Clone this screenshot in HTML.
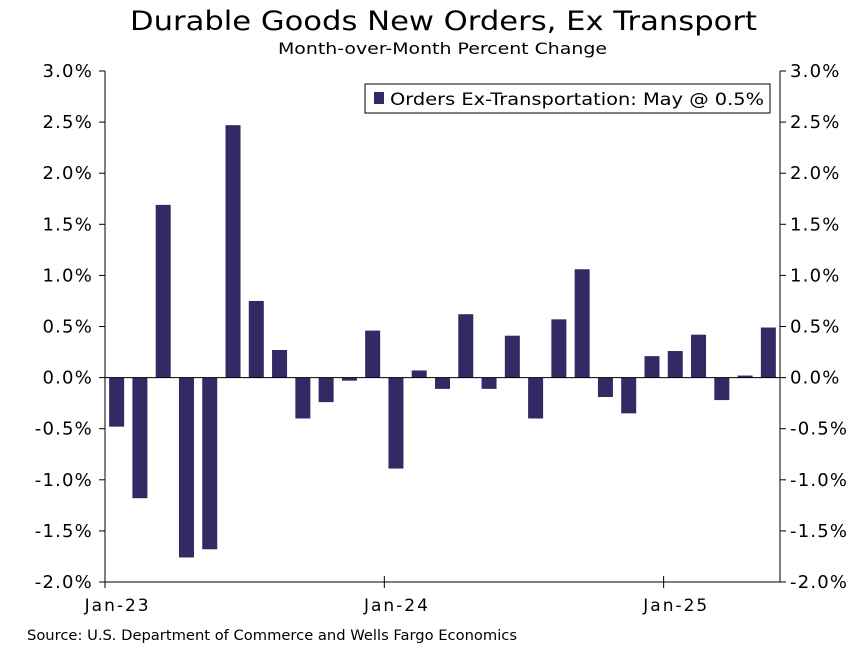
<!DOCTYPE html>
<html><head><meta charset="utf-8"><style>
body{margin:0;background:#fff;font-family:"DejaVu Sans","Liberation Sans",sans-serif}
svg text{font-family:"DejaVu Sans","Liberation Sans",sans-serif}
</style></head><body>
<svg id="c" width="864" height="648" xmlns="http://www.w3.org/2000/svg">
<text x="130" y="30" font-size="27" textLength="627" lengthAdjust="spacingAndGlyphs" fill="#000">Durable Goods New Orders, Ex Transport</text>
<text x="278" y="54" font-size="16" textLength="329" lengthAdjust="spacingAndGlyphs" fill="#000">Month-over-Month Percent Change</text>
<text x="27" y="640" font-size="14" textLength="490" lengthAdjust="spacingAndGlyphs" fill="#000">Source: U.S. Department of Commerce and Wells Fargo Economics</text>
<g id="plot"></g>
<g>
<rect x="365" y="84" width="405" height="29" fill="#fff" stroke="#000" stroke-width="1"/>
<rect x="374" y="92" width="10" height="12" fill="#312a65"/>
<text x="390" y="105" font-size="17" textLength="374" lengthAdjust="spacingAndGlyphs" fill="#000">Orders Ex-Transportation: May @ 0.5%</text>
</g>
</svg>
<script>
const categories=["Jan-23","Feb-23","Mar-23","Apr-23","May-23","Jun-23","Jul-23","Aug-23","Sep-23","Oct-23","Nov-23","Dec-23","Jan-24","Feb-24","Mar-24","Apr-24","May-24","Jun-24","Jul-24","Aug-24","Sep-24","Oct-24","Nov-24","Dec-24","Jan-25","Feb-25","Mar-25","Apr-25","May-25"];
const values=[-0.48,-1.18,1.69,-1.76,-1.68,2.47,0.75,0.27,-0.40,-0.24,-0.03,0.46,-0.89,0.07,-0.11,0.62,-0.11,0.41,-0.40,0.57,1.06,-0.19,-0.35,0.21,0.26,0.42,-0.22,0.02,0.49];
const yTicks=[3.0,2.5,2.0,1.5,1.0,0.5,0.0,-0.5,-1.0,-1.5,-2.0];
const xTickLabels=["Jan-23","Jan-24","Jan-25"];
const xTickIndex=[0,12,24];
const L=105,R=780,T=71,B=582,yMax=3,yMin=-2;
const step=(R-L)/categories.length;
const y=v=>T+(yMax-v)/(yMax-yMin)*(B-T);
const x=i=>L+step*i;
const NS="http://www.w3.org/2000/svg";
const g=document.getElementById('plot');
function mk(t,a){const e=document.createElementNS(NS,t);for(const k in a)e.setAttribute(k,a[k]);g.appendChild(e);return e;}
values.forEach((v,i)=>{
 const bw=15,cx=x(i)+step/2;
 const r=mk('rect',{x:cx-bw/2,y:Math.min(y(v),y(0)),width:bw,height:Math.abs(y(v)-y(0)),fill:'#312a65'});
 
 
});
const ax=mk('path',{d:`M${L},${T}V${B}H${R}V${T}`,fill:'none',stroke:'#000','stroke-width':1});


const z=mk('line',{x1:L,x2:R,y1:y(0),y2:y(0),stroke:'#000','stroke-width':1});


yTicks.forEach(t=>{
 const yy=y(t);
 mk('line',{x1:L-6,x2:L,y1:yy,y2:yy,stroke:'#000'});
 mk('line',{x1:R,x2:R+6,y1:yy,y2:yy,stroke:'#000'});
 const lab=t.toFixed(1)+'%';
 const a=mk('text',{x:L-12,y:yy+6,'font-size':18,'text-anchor':'end','letter-spacing':1.2});a.textContent=lab;
 
 
 const b=mk('text',{x:R+10,y:yy+6,'font-size':18,'letter-spacing':1.2});b.textContent=lab;
 
 
});
xTickIndex.forEach((idx,k)=>{
 const xx=x(idx);
 mk('line',{x1:xx,x2:xx,y1:B-6,y2:B+6,stroke:'#000'});
 const t=mk('text',{x:xx+step/2+1,y:B+29,'font-size':17,'text-anchor':'middle','letter-spacing':2});t.textContent=xTickLabels[k];
 
 
});
</script>
</body></html>
